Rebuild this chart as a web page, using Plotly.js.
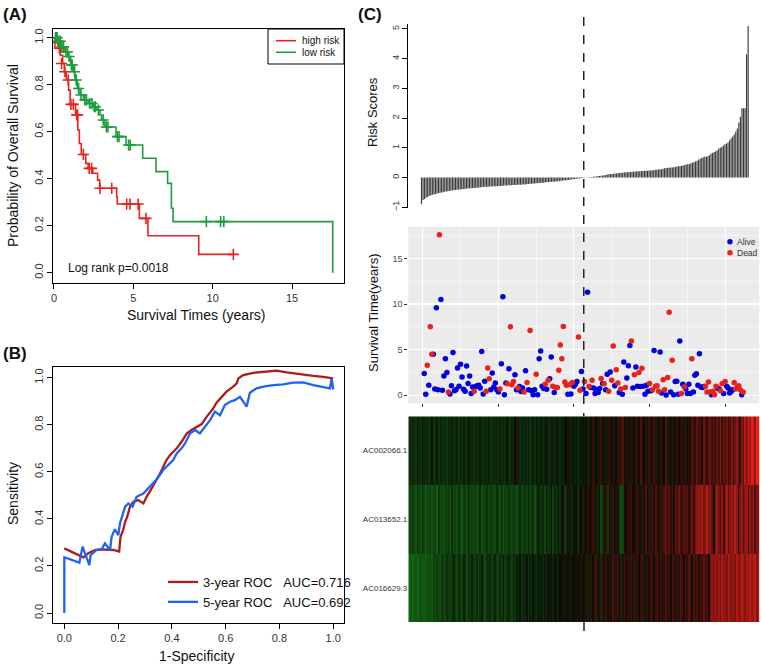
<!DOCTYPE html>
<html><head><meta charset="utf-8">
<script src="https://cdn.plot.ly/plotly-3.0.1.min.js"></script>
<style>html,body{margin:0;padding:0;background:#fff}#chart{width:761px;height:666px}</style>
</head><body><div id="chart"></div>
<script>
// ---------- (A) Kaplan-Meier ----------
const highT = [0,0.1,0.25,0.4,0.55,0.65,0.78,0.92,1.02,1.36,1.5,1.6,1.72,2.0,2.15,2.45,2.75,2.88,3.95,3.99,5.38,5.92,9.12,11.3];
const highS = [1.0,0.98,0.955,0.925,0.89,0.855,0.82,0.777,0.716,0.671,0.607,0.55,0.503,0.465,0.444,0.423,0.394,0.359,0.323,0.292,0.231,0.157,0.078,0.078];
const lowT = [0,0.3,0.48,0.69,0.9,1.05,1.22,1.32,1.47,1.64,1.85,2.16,2.48,2.69,2.9,3.0,3.21,3.91,4.54,5.59,6.43,7.16,7.4,7.5,17.56];
const lowS = [1.0,0.985,0.96,0.94,0.92,0.884,0.855,0.82,0.784,0.756,0.735,0.72,0.706,0.692,0.671,0.65,0.62,0.579,0.543,0.487,0.43,0.38,0.274,0.217,0.0];
const highCensT = [0.06,0.34,0.48,0.69,0.9,1.07,1.22,1.43,1.49,1.85,2.22,2.37,2.9,3.64,4.58,4.79,5.3,5.8,11.3];
const highCensS = [0.98,0.955,0.89,0.855,0.82,0.716,0.716,0.671,0.671,0.503,0.444,0.444,0.359,0.359,0.292,0.292,0.292,0.231,0.078];
const lowCensT = [0.1,0.15,0.2,0.3,0.4,0.5,0.6,0.75,0.85,0.95,1.1,1.15,1.3,1.4,1.55,1.7,1.95,2.05,2.25,2.4,2.55,2.6,2.8,3.1,3.3,3.4,4.0,4.1,4.7,4.8,9.6,10.5,10.7];
const lowCensS = [1.0,1.0,1.0,0.985,0.985,0.96,0.96,0.94,0.94,0.92,0.884,0.884,0.855,0.82,0.784,0.756,0.735,0.735,0.72,0.72,0.706,0.706,0.692,0.65,0.62,0.62,0.579,0.579,0.543,0.543,0.217,0.217,0.217];
const kmGroups = ["high risk", "low risk"];

// ---------- (B) ROC ----------
const fpr3 = [0,0.052,0.071,0.089,0.114,0.133,0.157,0.182,0.204,0.207,0.209,0.219,0.226,0.234,0.244,0.257,0.275,0.294,0.306,0.325,0.343,0.356,0.368,0.380,0.393,0.405,0.418,0.436,0.455,0.473,0.492,0.511,0.529,0.554,0.566,0.585,0.603,0.628,0.641,0.647,0.665,0.703,0.752,0.789,0.827,0.876,0.926,0.963,1.0];
const tpr3 = [0.275,0.246,0.237,0.254,0.268,0.271,0.271,0.268,0.261,0.296,0.324,0.353,0.388,0.409,0.452,0.473,0.480,0.466,0.494,0.530,0.565,0.593,0.622,0.650,0.671,0.686,0.700,0.728,0.763,0.778,0.789,0.803,0.834,0.870,0.894,0.916,0.941,0.962,0.976,0.997,1.011,1.021,1.025,1.030,1.023,1.014,1.008,1.004,0.997];
const fpr5 = [0,0,0.056,0.068,0.093,0.098,0.120,0.139,0.151,0.170,0.176,0.188,0.201,0.207,0.226,0.238,0.254,0.269,0.294,0.312,0.331,0.343,0.368,0.380,0.393,0.405,0.418,0.436,0.449,0.467,0.486,0.504,0.523,0.542,0.560,0.579,0.597,0.616,0.634,0.653,0.678,0.690,0.715,0.740,0.777,0.814,0.851,0.888,0.926,0.963,0.988,0.994,1.0];
const tpr5 = [0,0.237,0.214,0.282,0.204,0.246,0.268,0.271,0.296,0.268,0.324,0.356,0.331,0.381,0.452,0.466,0.452,0.494,0.508,0.530,0.551,0.568,0.608,0.622,0.636,0.650,0.678,0.700,0.721,0.763,0.778,0.763,0.792,0.820,0.856,0.841,0.884,0.898,0.905,0.919,0.877,0.936,0.955,0.962,0.969,0.972,0.979,0.980,0.969,0.962,0.955,0.997,0.950];

// ---------- (C) risk score, survival, expression ----------
const riskScore = [
-0.90,-0.75,-0.72,-0.68,-0.65,-0.62,-0.60,-0.58,-0.57,-0.55,
-0.54,-0.52,-0.51,-0.50,-0.49,-0.48,-0.47,-0.46,-0.45,-0.44,
-0.43,-0.43,-0.42,-0.41,-0.40,-0.40,-0.39,-0.38,-0.38,-0.37,
-0.37,-0.36,-0.36,-0.35,-0.35,-0.34,-0.34,-0.33,-0.33,-0.32,
-0.32,-0.31,-0.31,-0.31,-0.30,-0.30,-0.30,-0.29,-0.29,-0.29,
-0.28,-0.28,-0.28,-0.27,-0.27,-0.27,-0.26,-0.26,-0.26,-0.25,
-0.25,-0.25,-0.24,-0.24,-0.24,-0.23,-0.23,-0.23,-0.22,-0.22,
-0.21,-0.21,-0.20,-0.20,-0.19,-0.19,-0.18,-0.18,-0.17,-0.17,
-0.16,-0.16,-0.15,-0.15,-0.14,-0.14,-0.13,-0.13,-0.12,-0.12,
-0.11,-0.11,-0.10,-0.09,-0.09,-0.08,-0.07,-0.06,-0.06,-0.05,
-0.04,-0.03,-0.03,-0.02,-0.01,-0.005,
0.005,0.01,0.01,0.02,0.02,0.03,0.04,0.04,0.05,0.05,
0.06,0.07,0.08,0.09,0.10,0.11,0.12,0.12,0.13,0.14,
0.14,0.15,0.15,0.16,0.16,0.17,0.18,0.18,0.19,0.19,
0.20,0.20,0.20,0.21,0.21,0.21,0.22,0.22,0.23,0.23,
0.23,0.24,0.24,0.25,0.25,0.26,0.26,0.27,0.28,0.28,
0.30,0.31,0.32,0.33,0.33,0.34,0.34,0.35,0.36,0.37,
0.38,0.39,0.40,0.41,0.42,0.44,0.45,0.46,0.48,0.50,
0.52,0.54,0.57,0.60,0.63,0.66,0.68,0.70,0.71,0.72,
0.75,0.80,0.83,0.86,0.88,0.92,0.98,1.00,1.03,1.08,
1.12,1.15,1.18,1.25,1.32,1.38,1.45,1.55,1.65,1.85,
2.05,2.33,2.33,2.33,4.15,5.10];

const survTime = [
2.4,0.1,3.3,1.1,7.5,4.5,4.5,0.7,9.6,0.6,
17.6,10.5,0.55,2.1,4.0,2.5,0.35,0.15,1.05,4.7,
0.5,0.6,3.0,1.0,3.4,2.0,0.65,0.45,3.2,1.3,
2.1,0.2,0.9,0.45,0.95,1.05,1.1,0.8,4.8,0.15,
1.55,0.45,3.0,1.8,0.6,2.45,0.9,1.35,0.6,0.35,
0.7,3.45,10.8,0.07,1.35,1.25,2.9,7.5,1.15,1.5,
2.25,0.6,0.8,0.95,0.4,0.8,0.35,2.7,1.4,0.6,
7.1,0.5,0.07,0.6,2.3,0.07,4.0,4.85,1.0,0.75,
1.2,0.65,1.65,1.8,4.2,1.0,0.3,0.85,0.85,2.75,
5.5,4.0,7.55,1.45,1.1,0.1,1.15,0.15,1.4,1.0,
1.2,1.5,6.4,0.55,2.6,0.7,1.5,0.2,11.3,0.95,
0.85,1.65,0.8,0.2,0.6,0.3,0.75,1.85,1.3,1.25,
0.6,2.3,0.45,2.55,1.65,5.4,1.05,2.8,1.35,0.3,
0.7,0.1,3.65,0.85,1.9,3.25,5.45,5.95,0.8,2.25,
3.1,1.0,2.5,0.95,2.95,1.0,0.1,1.1,0.45,1.3,
0.5,0.6,4.9,1.0,1.05,0.45,4.75,0.25,1.7,0.6,
0.04,1.95,9.1,0.35,3.85,0.07,1.5,1.55,0.1,5.95,
0.2,1.2,0.9,0.7,0.2,1.2,0.2,4.0,0.35,2.2,
2.35,1.1,4.55,0.9,0.85,0.95,1.0,0.35,1.45,0.35,
0.07,0.45,0.07,1.0,0.8,0.7,0.5,1.25,0.2,1.5,
1.0,0.8,0.25,0.4,0.6,1.4,0.7,0.9,1.05,0.6,
0.07,0.35];
// 1 = Dead, 0 = Alive
const survStatus = [
0,0,1,0,1,1,0,0,0,0, 1,0,0,0,0,0,1,0,0,0, 0,0,0,0,0,0,0,0,0,0, 0,0,0,1,0,0,0,0,0,0,
0,1,1,1,0,0,0,0,0,0, 1,0,0,0,0,1,0,1,1,1, 0,0,1,0,0,0,1,0,1,0, 1,0,0,0,1,0,0,0,0,0,
1,0,1,0,0,1,0,1,1,1, 1,1,1,1,1,0,1,0,1,0, 0,0,1,1,0,0,1,0,0,1, 0,1,0,0,0,0,0,1,0,1,
0,0,1,0,1,1,0,1,1,0, 1,0,0,1,0,0,0,1,0,1, 0,0,1,0,1,0,0,0,0,1, 0,1,0,1,1,1,0,0,1,1,
0,1,1,0,1,0,0,0,0,0, 1,0,1,0,0,0,0,1,0,0, 0,0,0,0,0,0,1,1,1,1, 0,1,1,1,0,0,1,1,0,1,
0,0,0,0,0,1,1,1,1,1, 0,1];
const statusNames = ["Alive", "Dead"];

const genes = ["AC002066.1","AC013652.1","AC016629.3"];
const exprAC002066 = [
-.15,-.2,-.12,-.18,-.22,-.1,-.16,-.2,-.08,-.14, -.18,-.12,-.22,-.15,-.05,-.2,-.17,-.1,-.21,-.13,
-.16,-.2,-.11,-.24,-.14,-.18,-.09,-.2,-.15,-.12, -.22,-.13,-.18,-.1,-.2,-.16,-.06,-.19,-.14,-.21,
-.12,-.17,-.2,-.1,-.15,-.22,-.13,-.18,-.08,-.16, -.2,-.11,-.17,-.14,-.22,-.1,-.18,-.13,-.19,-.05,
-.15,-.2,-.12,-.17,-.02,.15,-.1,-.18,-.14,-.2, -.12,-.16,-.08,-.2,-.14,-.1,-.18,-.05,-.15,-.12,
-.02,-.16,-.1,.08,-.13,-.18,-.06,-.12,-.15,-.03, -.1,-.17,-.08,-.14,-.02,.05,.12,-.1,-.15,-.06,
-.12,-.04,-.16,-.08,-.1,-.05,
-.12,.05,-.15,.1,-.05,.18,-.1,.02,-.08,.15, .2,-.06,.08,-.12,.12,.25,-.04,.1,-.1,.05,
.18,-.08,.22,.3,-.05,.12,-.1,.08,.15,-.12, .05,.22,-.06,.1,.28,-.1,.04,.15,-.08,.2,
.1,-.05,.25,.12,-.12,.06,.18,-.08,.02,.3, .15,-.1,.08,.2,-.06,.12,.25,.05,-.1,.18,
.1,.22,-.05,.15,.05,.3,.18,.12,.35,.2, .28,.1,.4,.25,.15,.32,.45,.22,.3,.12,
.38,.25,.5,.2,.35,.28,.42,.15,.3,.45, .25,.38,.55,.3,.2,.48,.35,.7,.5,.85,
.6,.9,.75,.55,.95,.8];
const exprAC013652 = [
-.25,-.32,-.2,-.3,-.38,-.22,-.28,-.35,-.18,-.3, -.4,-.26,-.33,-.22,-.38,-.3,-.25,-.42,-.2,-.34,
-.28,-.36,-.22,-.3,-.25,-.38,-.18,-.32,-.27,-.35, -.2,-.3,-.38,-.24,-.28,-.33,-.2,-.36,-.26,-.3,
-.22,-.34,-.28,-.18,-.38,-.25,-.3,-.2,-.33,-.27, -.24,-.36,-.3,-.2,-.28,-.34,-.22,-.4,-.26,-.3,
-.18,-.25,-.32,-.2,-.28,-.35,-.22,-.15,-.3,-.24, -.2,-.28,-.12,-.3,-.22,-.18,-.35,-.26,-.1,-.2,
-.25,-.15,-.3,-.08,-.22,-.18,-.05,-.28,-.12,-.3, -.1,-.2,-.05,.05,-.25,-.15,.12,-.08,-.2,-.1,
-.05,.02,-.18,-.08,.05,-.12,
.1,.05,.15,-.05,.08,.2,-.1,.12,-.15,.05, -.3,-.2,.1,.18,-.25,.08,.15,.22,.05,-.1,
.12,-.2,-.35,-.28,.1,.05,.18,.12,.2,.08, -.05,.15,.25,.1,-.08,.2,.12,.3,.05,-.12,
.18,.25,.1,.3,.15,-.06,.22,.12,.28,.35, .2,.3,.15,.25,.1,.32,.2,.4,.25,.15,
.35,.22,.3,.12,.28,.4,.2,.45,.55,.6, .5,.65,.4,.55,.7,.45,.6,.35,-.05,.5,
.62,.4,.3,.55,.25,.48,.65,.35,.5,.6, .42,.7,.55,.1,.45,.6,.3,.5,.62,.2,
.55,.4,.65,.25,.5,.45];
const exprAC016629 = [
-.45,-.4,-.48,-.42,-.38,-.45,-.4,-.35,-.44,-.38, -.4,-.32,-.36,-.3,-.38,-.28,-.33,-.25,-.3,-.35,
-.22,-.28,-.32,-.18,-.26,-.3,-.2,-.12,-.25,-.3, -.15,-.22,-.28,-.1,-.24,-.3,-.18,-.26,-.12,-.22,
-.28,-.16,-.3,-.2,-.1,-.25,-.32,-.18,-.22,-.14, -.28,-.2,-.12,-.26,-.3,-.16,-.22,-.1,-.25,-.18,
-.08,-.2,-.26,-.14,-.22,-.1,-.18,-.05,-.2,-.12, -.16,-.06,-.22,-.1,-.18,-.04,-.14,-.2,-.08,-.12,
-.02,-.15,-.08,-.18,.04,-.1,-.05,-.14,.06,-.08, -.12,.02,-.06,.1,-.1,-.04,.08,-.08,.12,.05,
-.05,.1,-.08,.02,.15,-.04,
.08,-.12,.2,.1,-.15,.05,.18,.25,-.1,.12, -.18,.15,.08,.22,-.05,.18,.1,.28,-.12,.15,
.2,.05,-.15,.12,.25,.08,.18,-.08,.22,.1, -.15,.15,.25,.05,.18,.3,-.1,.12,.2,.08,
.25,.15,-.05,.2,.3,.1,.22,-.08,.15,.28, .12,.2,.05,.3,.18,-.1,.25,.15,.32,.2,
.08,.28,.15,.35,.22,-.05,.3,.18,.25,.12, .3,.2,.38,.15,.28,.05,.45,.55,.5,.62,
.48,.58,.4,.65,.52,.6,.45,.7,.55,.5, .62,.45,.68,.55,.5,.72,.6,.48,.65,.55,
.7,.58,.62,.75,.5,.65];

// ---------- build ----------
const N = riskScore.length;
const idx = riskScore.map((_, i) => i + 1);
const nLow = riskScore.filter(v => v < 0).length;
const cut = nLow + 0.5;
const aliveX = [], aliveY = [], deadX = [], deadY = [];
survTime.forEach((t, i) => { if (survStatus[i] === 1) { deadX.push(i + 1); deadY.push(t); } else { aliveX.push(i + 1); aliveY.push(t); } });

const FONT = "Liberation Sans, Arial, Helvetica, sans-serif";
const RED = "#E8231E", GREEN = "#1F9D3C";
const BLUE_PT = "#0000DD", RED_PT = "#E8221A";

const traces = [
  {x: highT, y: highS, type: "scatter", mode: "lines", line: {color: RED, width: 1.6, shape: "hv"}, name: kmGroups[0], showlegend: false, xaxis: "x", yaxis: "y"},
  {x: lowT, y: lowS, type: "scatter", mode: "lines", line: {color: GREEN, width: 1.6, shape: "hv"}, name: kmGroups[1], showlegend: false, xaxis: "x", yaxis: "y"},
  {x: highCensT, y: highCensS, type: "scatter", mode: "markers", marker: {symbol: "cross-thin-open", size: 8, color: RED, line: {color: RED, width: 1.6}}, showlegend: false, xaxis: "x", yaxis: "y"},
  {x: lowCensT, y: lowCensS, type: "scatter", mode: "markers", marker: {symbol: "cross-thin-open", size: 8, color: GREEN, line: {color: GREEN, width: 1.6}}, showlegend: false, xaxis: "x", yaxis: "y"},
  {x: fpr3, y: tpr3, type: "scatter", mode: "lines", line: {color: "#AE1B1B", width: 2.3}, name: "3-year ROC\u00a0\u00a0\u00a0AUC=0.716", xaxis: "x2", yaxis: "y2", legend: "legend2"},
  {x: fpr5, y: tpr5, type: "scatter", mode: "lines", line: {color: "#1E64F0", width: 2.3}, name: "5-year ROC\u00a0\u00a0\u00a0AUC=0.692", xaxis: "x2", yaxis: "y2", legend: "legend2"},
  {x: idx, y: riskScore, type: "bar", marker: {color: "#3a3a3a", line: {width: 0}}, showlegend: false, xaxis: "x3", yaxis: "y3"},
  {x: aliveX, y: aliveY, type: "scatter", mode: "markers", marker: {color: BLUE_PT, size: 5.5}, name: statusNames[0], showlegend: false, xaxis: "x4", yaxis: "y4"},
  {x: deadX, y: deadY, type: "scatter", mode: "markers", marker: {color: RED_PT, size: 5.5}, name: statusNames[1], showlegend: false, xaxis: "x4", yaxis: "y4"},
  {z: [exprAC002066, exprAC013652, exprAC016629], x: idx, y: genes, type: "heatmap", xaxis: "x5", yaxis: "y5",
   colorscale: [[0, "rgb(34,205,34)"], [0.5, "rgb(8,10,6)"], [1, "rgb(255,34,30)"]], zmin: -1, zmax: 1, showscale: false}
];

const W = 761, H = 666;
const px = v => v / W, py = v => 1 - v / H;
const rAxis = {showline: true, mirror: true, linecolor: "#000", linewidth: 1, ticks: "outside", ticklen: 5, tickcolor: "#000",
  showgrid: false, zeroline: false, tickfont: {family: FONT, size: 11, color: "#333"}, automargin: false};
const ggGrid = {showgrid: true, gridcolor: "#fff", gridwidth: 1.1, zeroline: false, showline: false, automargin: false};
const lbl = (text, x, y, size, extra) => Object.assign({text, xref: "paper", yref: "paper", x: px(x), y: py(y), xanchor: "center", yanchor: "middle", showarrow: false, borderpad: 0, font: {size, color: "#111"}}, extra || {});

const layout = {
  width: W, height: H, margin: {l: 0, r: 0, t: 0, b: 0}, paper_bgcolor: "#fff", plot_bgcolor: "#fff",
  font: {family: FONT}, bargap: 0.25,
  xaxis: Object.assign({}, rAxis, {domain: [px(53), px(344)], range: [-0.06, 18.27], tickvals: [0, 5, 10, 15], anchor: "y"}),
  yaxis: Object.assign({}, rAxis, {domain: [py(283), py(29)], range: [-0.044, 1.037], tickvals: [0, 0.2, 0.4, 0.6, 0.8, 1], ticktext: ["0.0", "0.2", "0.4", "0.6", "0.8", "1.0"], tickangle: -90, anchor: "x"}),
  xaxis2: Object.assign({}, rAxis, {domain: [px(53), px(344)], range: [-0.042, 1.04], tickvals: [0, 0.2, 0.4, 0.6, 0.8, 1], ticktext: ["0.0", "0.2", "0.4", "0.6", "0.8", "1.0"], anchor: "y2"}),
  yaxis2: Object.assign({}, rAxis, {domain: [py(622.7), py(366.7)], range: [-0.041, 1.047], tickvals: [0, 0.2, 0.4, 0.6, 0.8, 1], ticktext: ["0.0", "0.2", "0.4", "0.6", "0.8", "1.0"], tickangle: -90, anchor: "x2"}),
  xaxis3: {domain: [px(408.3), 1], range: [-7.53, 220.3], visible: false, anchor: "y3"},
  yaxis3: {domain: [py(208.2), py(23.6)], range: [-1.03, 5.18], anchor: "x3", tickvals: [-1, 0, 1, 2, 3, 4, 5], tickangle: -90,
    showline: true, linecolor: "#000", linewidth: 1, ticks: "outside", ticklen: 5, tickcolor: "#000", showgrid: false, zeroline: false,
    tickfont: {family: FONT, size: 9, color: "#333"}, automargin: false},
  xaxis4: Object.assign({}, ggGrid, {domain: [px(408.3), px(759.2)], range: [-9.55, 222.55], anchor: "y4", tick0: 0, dtick: 50,
    showticklabels: false, ticks: "outside", ticklen: 3, tickcolor: "#333",
    minor: {dtick: 25, showgrid: true, gridcolor: "#fff", gridwidth: 0.5}}),
  yaxis4: Object.assign({}, ggGrid, {domain: [py(403.3), py(226.7)], range: [-0.88, 18.48], anchor: "x4", tick0: 0, dtick: 5,
    ticks: "outside", ticklen: 3, tickcolor: "#333", tickfont: {family: FONT, size: 9, color: "#4d4d4d"},
    minor: {dtick: 2.5, showgrid: true, gridcolor: "#fff", gridwidth: 0.5}}),
  xaxis5: {domain: [px(408.3), px(759.7)], range: [0.5, N + 0.5], visible: false, anchor: "y5"},
  yaxis5: {domain: [py(622), py(416.3)], anchor: "x5", autorange: "reversed", ticks: "", showline: false, showgrid: false, zeroline: false,
    tickfont: {family: FONT, size: 8, color: "#333"}, automargin: false},
  legend2: {x: px(163), xanchor: "left", y: py(567), yanchor: "top", bgcolor: "rgba(0,0,0,0)", borderwidth: 0,
    font: {family: FONT, size: 13, color: "#111"}, itemwidth: 30, tracegroupgap: 0},
  shapes: [
    {type: "rect", xref: "x4 domain", yref: "y4 domain", x0: 0, x1: 1, y0: 0, y1: 1, fillcolor: "#EBEBEB", line: {width: 0}, layer: "below"},
    {type: "line", xref: "x4", yref: "paper", x0: cut, x1: cut, y0: py(17), y1: py(416.3), line: {color: "#222", width: 1.5, dash: "dash"}},
    {type: "line", xref: "x5", yref: "paper", x0: cut, x1: cut, y0: py(622), y1: py(633), line: {color: "#222", width: 1.5, dash: "dash"}},
    // legend (A)
    {type: "rect", xref: "paper", yref: "paper", x0: px(268), x1: px(344), y0: py(64), y1: py(29), fillcolor: "#fff", line: {color: "#000", width: 1}},
    {type: "line", xref: "paper", yref: "paper", x0: px(276), x1: px(296), y0: py(40.7), y1: py(40.7), line: {color: RED, width: 1.6}},
    {type: "line", xref: "paper", yref: "paper", x0: px(276), x1: px(296), y0: py(52.3), y1: py(52.3), line: {color: GREEN, width: 1.6}},
    // legend (C)
    {type: "circle", xref: "paper", yref: "paper", x0: px(727.3), x1: px(732.7), y0: py(244.4), y1: py(239), fillcolor: BLUE_PT, line: {width: 0}},
    {type: "circle", xref: "paper", yref: "paper", x0: px(727.3), x1: px(732.7), y0: py(255.4), y1: py(250), fillcolor: RED_PT, line: {width: 0}}
  ],
  annotations: [
    lbl("<b>(A)</b>", 2, 15, 17, {xanchor: "left"}),
    lbl("<b>(B)</b>", 2, 353, 17, {xanchor: "left"}),
    lbl("<b>(C)</b>", 357, 15, 17, {xanchor: "left"}),
    {text: "Log rank p=0.0018", xref: "x", yref: "y", x: 0.75, y: 0.02, xanchor: "left", yanchor: "middle", showarrow: false, font: {size: 12, color: "#111"}},
    lbl(kmGroups[0], 301, 40.7, 10, {xanchor: "left"}),
    lbl(kmGroups[1], 301, 52.3, 10, {xanchor: "left"}),
    lbl(statusNames[0], 736, 241.7, 8.5, {xanchor: "left", font: {size: 8.5, color: "#333"}}),
    lbl(statusNames[1], 736, 252.7, 8.5, {xanchor: "left", font: {size: 8.5, color: "#333"}}),
    lbl("Survival Times (years)", 196, 315, 14),
    lbl("Probability of Overall Survival", 13, 156, 14, {textangle: -90}),
    lbl("1-Specificity", 196, 656, 14),
    lbl("Sensitivity", 13, 494, 14, {textangle: -90}),
    lbl("Risk Scores", 373, 112, 13, {textangle: -90}),
    lbl("Survival Time(years)", 373, 313, 13, {textangle: -90})
  ]
};

Plotly.newPlot("chart", traces, layout, {staticPlot: true, displayModeBar: false});
</script></body></html>
